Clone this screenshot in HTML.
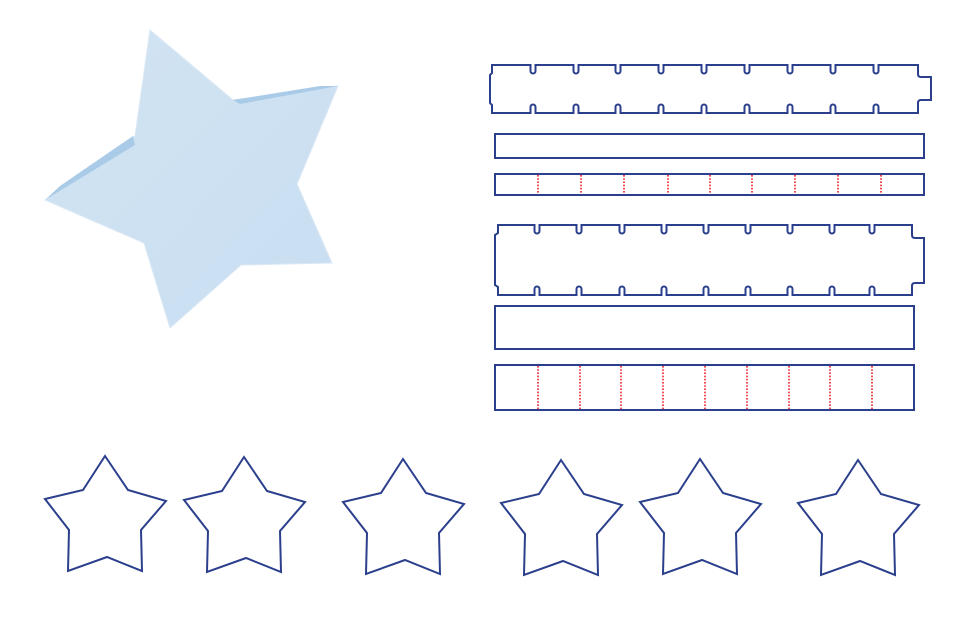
<!DOCTYPE html>
<html><head><meta charset="utf-8"><style>html,body{margin:0;padding:0;background:#fff;}svg{display:block}</style></head>
<body>
<svg id="s" width="960" height="640" viewBox="0 0 960 640" xmlns="http://www.w3.org/2000/svg">
<defs>
<linearGradient id="g" x1="0" y1="0" x2="1" y2="1">
<stop offset="0" stop-color="#d2e4f3"/><stop offset="1" stop-color="#c8def1"/>
</linearGradient>
</defs>
<polygon points="45,200 135,136 150,30 233,100 338,86 297,184 332,263 241,265 170,328 144,243" fill="url(#g)" stroke="#dbe8f5" stroke-width="1"/>
<polygon points="45,200 60,186 133,136 135,145" fill="#a9cbe8"/>
<polygon points="233,100 320,86 338,86 240,104" fill="#a9cbe8"/>
<g id="strips" fill="none" stroke="#2b3f8c" stroke-width="2"></g>
<g fill="none" stroke="#2b3f8c" stroke-width="2">
<rect x="495" y="134" width="429" height="24"/>
<rect x="495" y="174" width="429" height="21"/>
<rect x="495" y="306" width="419" height="43"/>
<rect x="495" y="365" width="419" height="45"/>
</g>
<g id="dots" stroke="#ee1c24" stroke-width="1.6" stroke-dasharray="1.6,1.6"></g>
<g id="stars" fill="none" stroke="#2b3f8c" stroke-width="2"></g>
</svg>
<script>
var NS="http://www.w3.org/2000/svg";
function strip(xl,xs,xr,xt,yt,yb,st1,st2,notches){
 var d="M"+xl+","+yt;
 notches.forEach(function(x){d+=" L"+(x-2.5)+","+yt+" L"+(x-2.5)+","+(yt+6)+" A2.5,2.5 0 0 0 "+(x+2.5)+","+(yt+6)+" L"+(x+2.5)+","+yt;});
 d+=" L"+xr+","+yt+" L"+xr+","+(st1-3)+" Q"+xr+","+st1+" "+(xr+3)+","+st1+" L"+xt+","+st1+" L"+xt+","+st2+" L"+(xr+3)+","+st2+" Q"+xr+","+st2+" "+xr+","+(st2+3)+" L"+xr+","+yb;
 notches.slice().reverse().forEach(function(x){d+=" L"+(x+2.5)+","+yb+" L"+(x+2.5)+","+(yb-6)+" A2.5,2.5 0 0 0 "+(x-2.5)+","+(yb-6)+" L"+(x-2.5)+","+yb;});
 d+=" L"+xl+","+yb+" L"+xl+","+(yb-8)+" L"+xs+","+(yb-10)+" L"+xs+","+(yt+10)+" L"+xl+","+(yt+8)+" Z";
 var p=document.createElementNS(NS,"path");p.setAttribute("d",d);document.getElementById("strips").appendChild(p);
}
strip(492,490,918,931,65,113,77,100,[533,576,618,661,704,747,790,833,876]);
strip(498,495,912,924,225,295,238,283,[537,579,622,664,706,748,790,832,872]);
function dots(y1,y2,xs){xs.forEach(function(x){var l=document.createElementNS(NS,"line");l.setAttribute("x1",x);l.setAttribute("x2",x);l.setAttribute("y1",y1);l.setAttribute("y2",y2);document.getElementById("dots").appendChild(l);});}
dots(175,194,[538,581,624,668,710,752,795,838,881]);
dots(366,409,[538,580,621,663,705,747,789,830,872]);
var off=[[0,0],[23,34],[61,45],[36,74],[37,115],[2,101],[-37,115],[-36,74],[-60,43],[-22,34]];
[[105,456],[244,457],[403,459],[561,460],[700,459],[858,460]].forEach(function(t){
 var p=document.createElementNS(NS,"polygon");
 p.setAttribute("points",off.map(function(o){return (t[0]+o[0])+","+(t[1]+o[1]);}).join(" "));
 document.getElementById("stars").appendChild(p);});
</script>
</body></html>
